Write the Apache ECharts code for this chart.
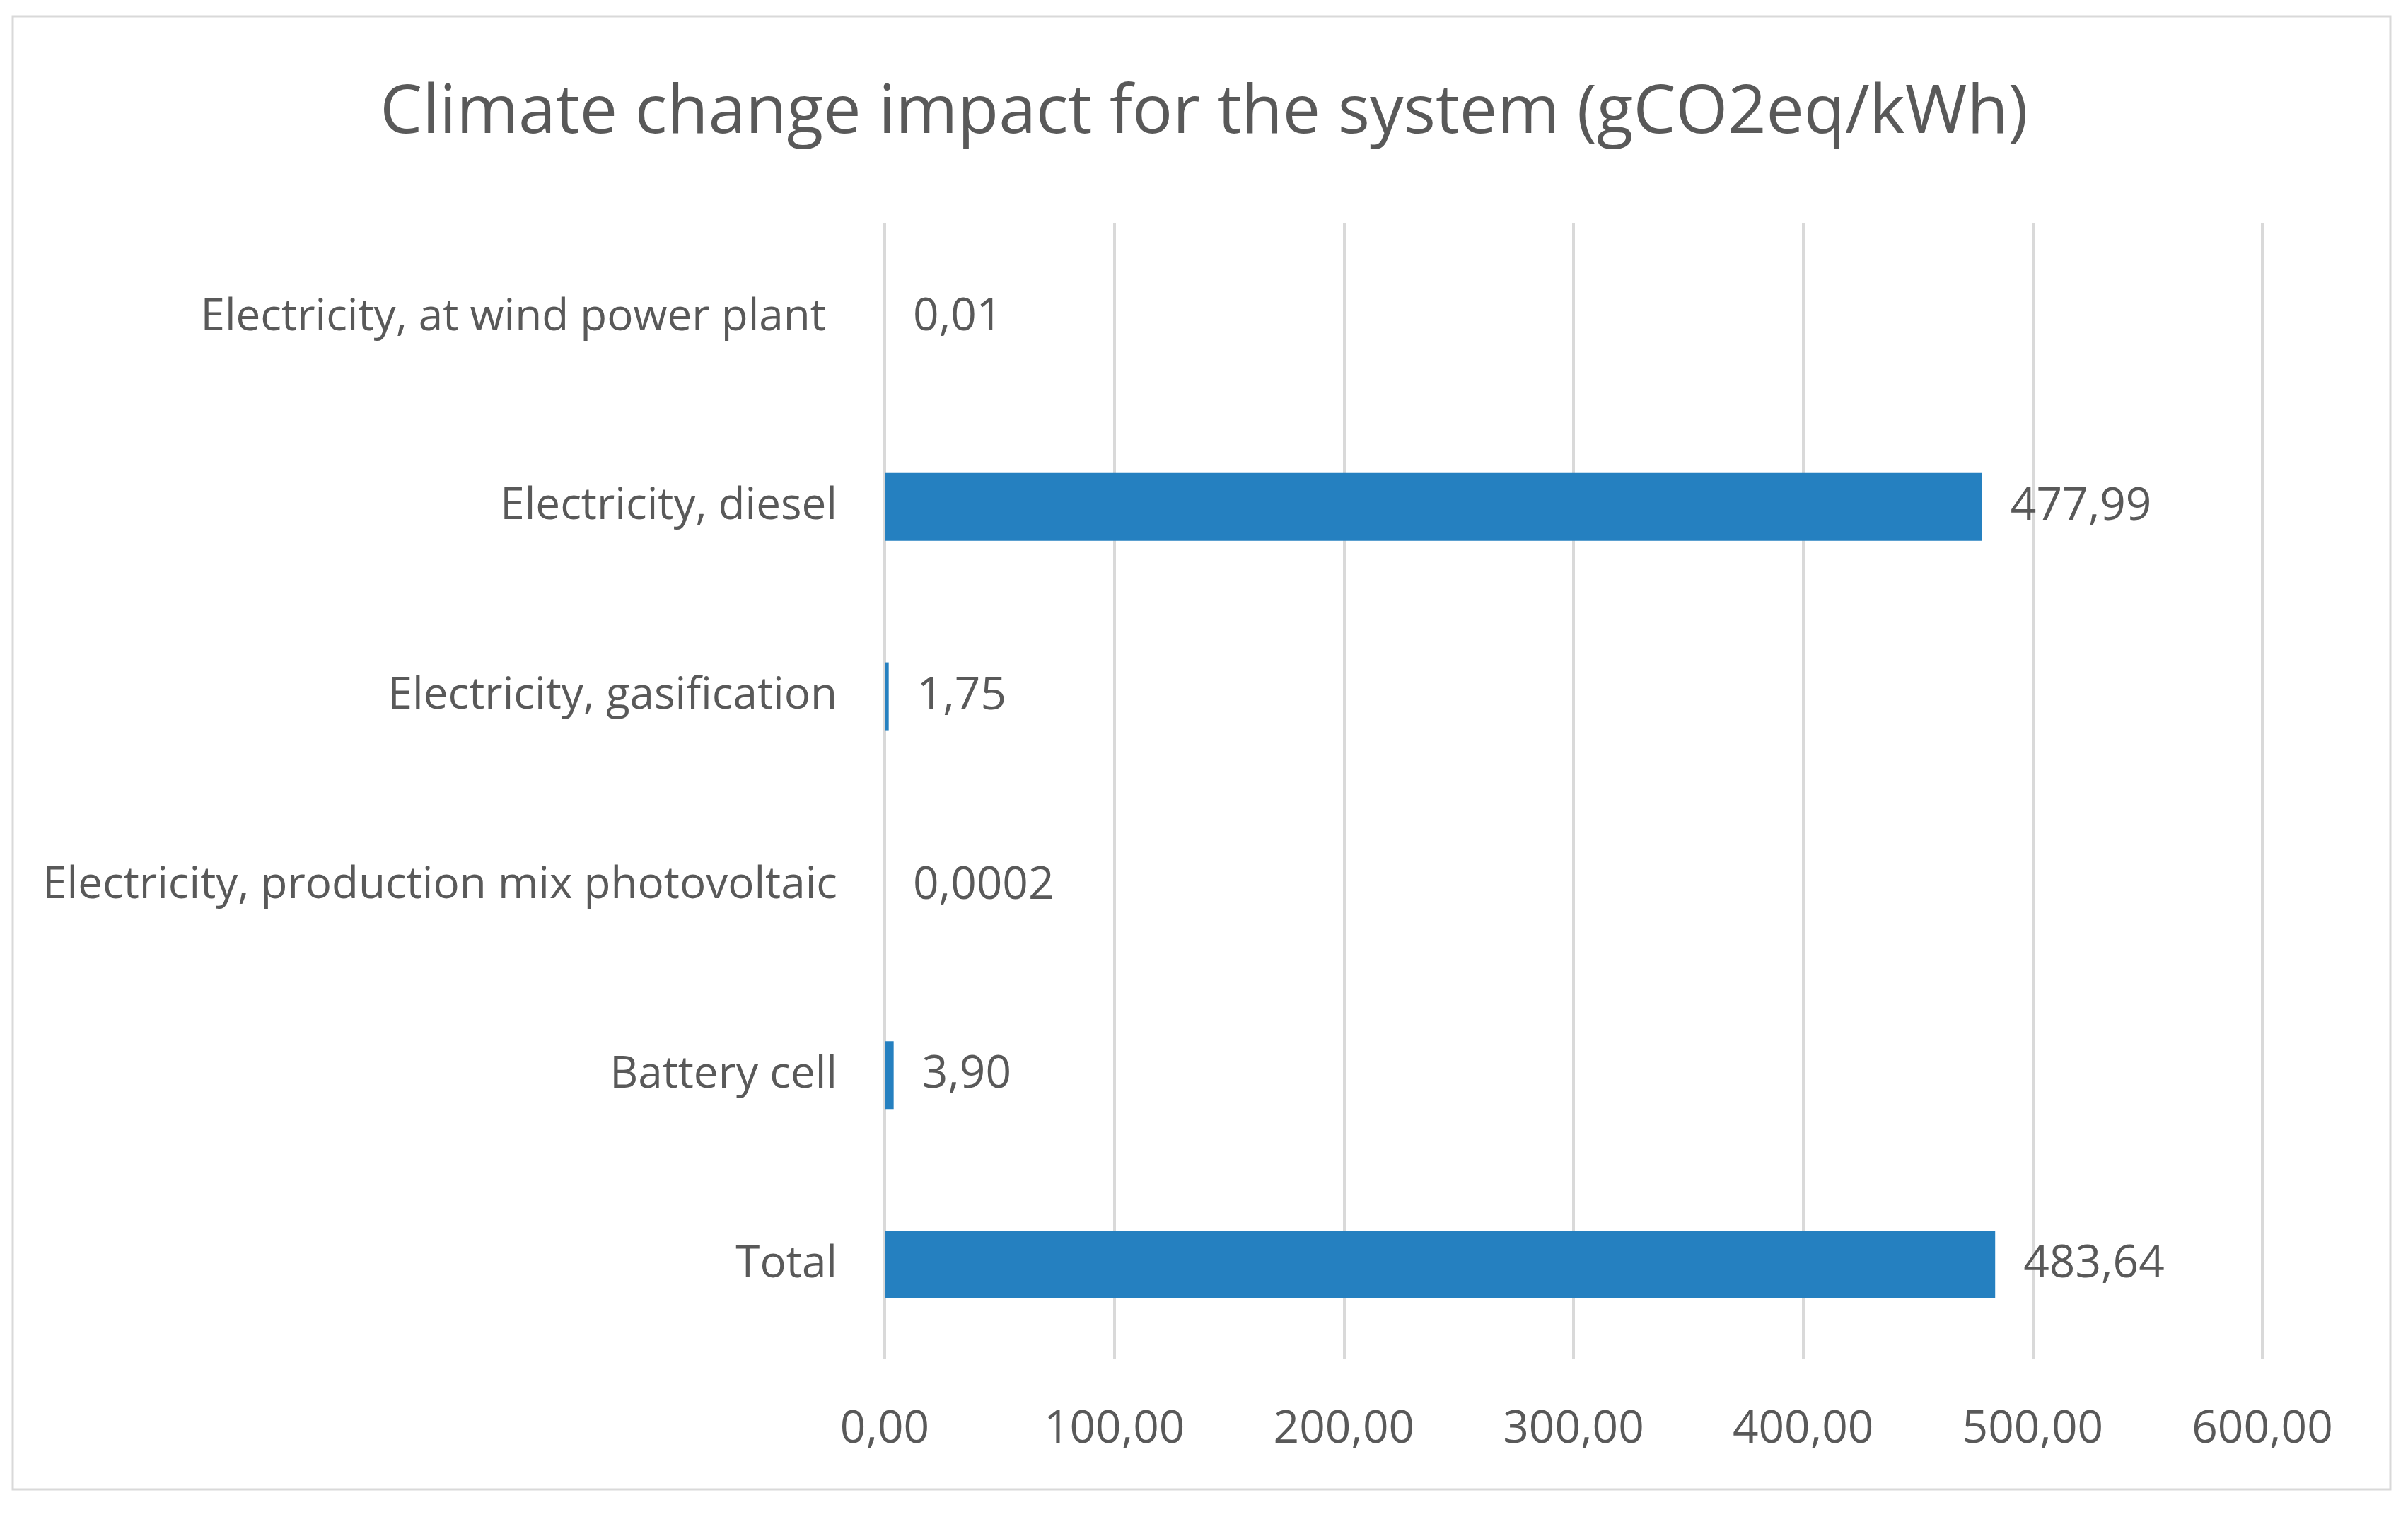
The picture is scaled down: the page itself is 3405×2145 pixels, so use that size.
<!DOCTYPE html>
<html>
<head>
<meta charset="utf-8">
<script src="https://cdn.jsdelivr.net/npm/echarts@6/dist/echarts.min.js"></script>
<style>
html,body{margin:0;padding:0;background:#fff;}
#main{width:3405px;height:2145px;}
</style>
</head>
<body>
<div id="main"></div>
<script>
const titleText = 'Climate change impact for the system (gCO2eq/kWh)';
const categories = [
  'Electricity, at wind power plant ',
  'Electricity, diesel',
  'Electricity, gasification',
  'Electricity, production mix photovoltaic',
  'Battery cell',
  'Total'
];
const values = [0.01, 477.99, 1.75, 0.0002, 3.90, 483.64];
const valueLabels = ['0,01', '477,99', '1,75', '0,0002', '3,90', '483,64'];
const xTicks = [0, 100, 200, 300, 400, 500, 600];

const textColor = '#595959';
const fontFamily = '"Open Sans", "Noto Sans", sans-serif';

const chart = echarts.init(document.getElementById('main'), null, {renderer: 'canvas'});
chart.setOption({
  backgroundColor: '#ffffff',
  animation: false,
  graphic: [{
    type: 'rect',
    shape: {x: 18, y: 23, width: 3362, height: 2083},
    style: {fill: 'none', stroke: '#d9d9d9', lineWidth: 3},
    silent: true
  }],
  title: {
    text: titleText,
    left: 'center',
    top: 108,
    textStyle: {color: textColor, fontFamily: fontFamily, fontWeight: 'normal', fontSize: 95}
  },
  grid: {left: 1251, right: 206, top: 315, bottom: 223, containLabel: false},
  xAxis: {
    type: 'value',
    min: xTicks[0],
    max: xTicks[xTicks.length - 1],
    interval: 100,
    axisLine: {show: false},
    axisTick: {show: false},
    splitLine: {show: true, lineStyle: {color: '#d9d9d9', width: 4}},
    axisLabel: {
      color: textColor, fontFamily: fontFamily, fontSize: 64, margin: 68,
      formatter: v => v.toFixed(2).replace('.', ',')
    }
  },
  yAxis: {
    type: 'category',
    data: categories,
    inverse: true,
    axisLine: {show: false},
    axisTick: {show: false},
    splitLine: {show: false},
    axisLabel: {color: textColor, fontFamily: fontFamily, fontSize: 62, margin: 67}
  },
  series: [{
    type: 'bar',
    data: values,
    barWidth: 96,
    itemStyle: {color: '#2580c0'},
    label: {
      show: true,
      position: 'right',
      distance: 40,
      color: textColor,
      fontFamily: fontFamily,
      fontSize: 64,
      formatter: p => valueLabels[p.dataIndex]
    }
  }]
});
</script>
</body>
</html>
